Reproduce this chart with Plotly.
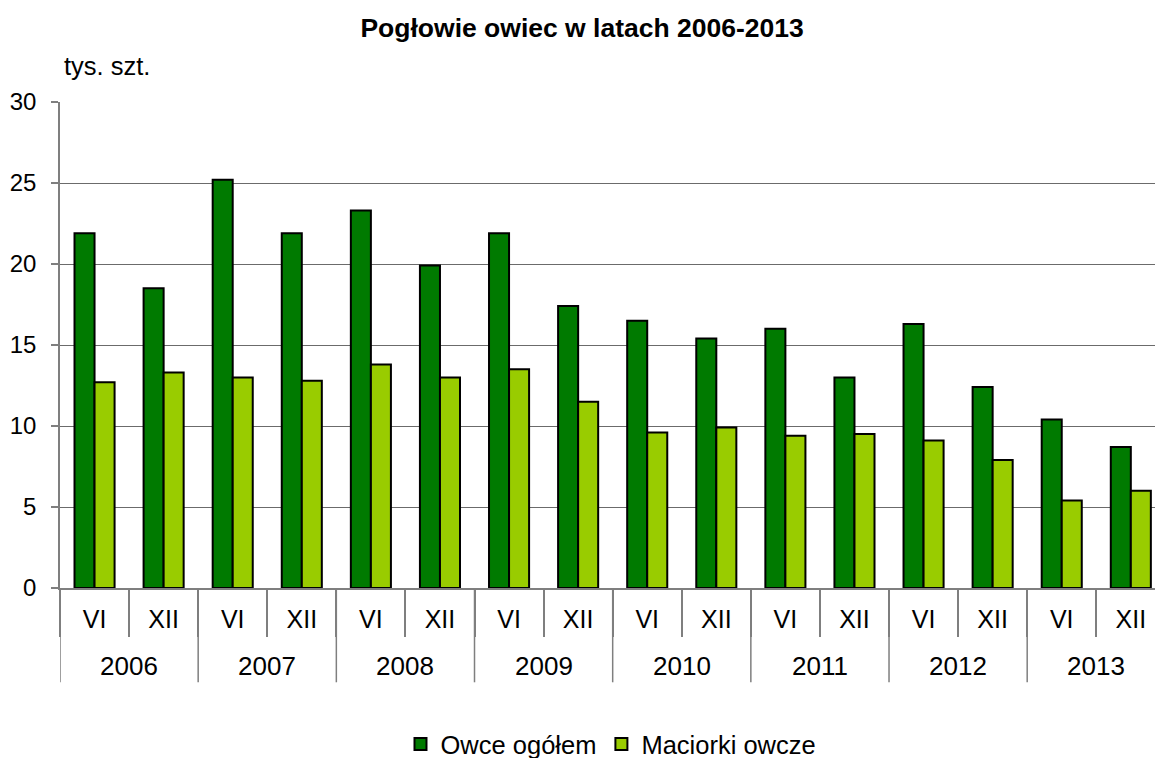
import plotly.graph_objects as go

years = ["2006", "2007", "2008", "2009", "2010", "2011", "2012", "2013"]
months = ["VI", "XII"]
owce_ogolem = [21.9, 18.5, 25.2, 21.9, 23.3, 19.9, 21.9, 17.4,
               16.5, 15.4, 16.0, 13.0, 16.3, 12.4, 10.4, 8.7]
maciorki = [12.7, 13.3, 13.0, 12.8, 13.8, 13.0, 13.5, 11.5,
            9.6, 9.9, 9.4, 9.5, 9.1, 7.9, 5.4, 6.0]

categories = [f"{y} {m}" for y in years for m in months]
month_labels = [m for _ in years for m in months]

FONT = "Liberation Sans, Arial, sans-serif"
GRAY = "#7f7f7f"

fig = go.Figure()
fig.add_trace(go.Bar(
    x=categories, y=owce_ogolem, name="Owce ogółem",
    marker=dict(color="#007A00", line=dict(color="#000000", width=2)),
))
fig.add_trace(go.Bar(
    x=categories, y=maciorki, name="Maciorki owcze",
    marker=dict(color="#99CC00", line=dict(color="#000000", width=2)),
))

n_m = len(months)
annotations = [dict(text="tys. szt.", xref="paper", yref="paper",
                    x=0, xshift=2, y=1.075, xanchor="left", yanchor="middle",
                    showarrow=False,
                    font=dict(family=FONT, size=25.5, color="#000000"))]
shapes = []
for i, yr in enumerate(years):
    start = i * n_m - 0.5
    annotations.append(dict(text=yr, xref="x", yref="paper",
                            x=start + n_m / 2, y=-0.161, xanchor="center",
                            yanchor="middle", showarrow=False,
                            font=dict(family=FONT, size=26, color="#000000")))
    shapes.append(dict(type="line", xref="x", yref="paper",
                       x0=start, x1=start, y0=0, y1=-0.194,
                       line=dict(color=GRAY, width=1.5)))

fig.update_layout(
    width=1155, height=758,
    margin=dict(l=60, r=0, t=101.5, b=169.5, autoexpand=False),
    paper_bgcolor="white", plot_bgcolor="white",
    barmode="group", bargap=0.42, bargroupgap=0,
    font=dict(family=FONT, size=24, color="#000000"),
    title=dict(text="<b>Pogłowie owiec w latach 2006-2013</b>",
               x=0.504, xanchor="center", y=0.963, yanchor="middle",
               font=dict(family=FONT, size=26.5, color="#000000")),
    showlegend=True,
    legend=dict(orientation="h", xref="container", x=0.529, xanchor="center",
                yref="container", y=0.018, yanchor="middle",
                font=dict(family=FONT, size=25.5, color="#000000"),
                itemwidth=30, tracegroupgap=0),
    annotations=annotations,
    shapes=shapes,
)

fig.update_xaxes(
    type="category", range=[-0.5, 15.35], automargin=False,
    tickmode="array", tickvals=categories, ticktext=month_labels,
    showline=True, linecolor=GRAY, linewidth=1.5,
    showgrid=False, ticks="outside", tickson="boundaries",
    ticklen=47, tickcolor=GRAY, tickwidth=1.5,
    ticklabelstandoff=8,
    tickfont=dict(family=FONT, size=25, color="#000000"),
)
fig.update_yaxes(
    range=[0, 30], dtick=5, tick0=0, automargin=False,
    showline=True, linecolor=GRAY, linewidth=1.5,
    showgrid=True, gridcolor="#6b6b6b", gridwidth=1.2,
    ticks="outside", ticklen=7, tickcolor=GRAY, tickwidth=1.5,
    ticklabelstandoff=10,
    zeroline=False,
    tickfont=dict(family=FONT, size=24, color="#000000"),
)

fig.write_html("out.html",
               config={"displayModeBar": False},
               post_script="document.body.style.margin='0';document.body.style.padding='0';")
